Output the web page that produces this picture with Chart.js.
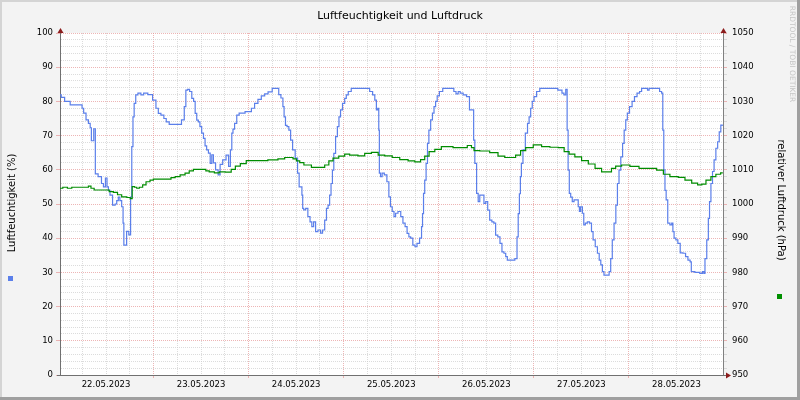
<!DOCTYPE html>
<html>
<head>
<meta charset="utf-8">
<script src="https://cdn.jsdelivr.net/npm/chart.js@4.4.0/dist/chart.umd.min.js"></script>
<style>
  html, body { margin: 0; padding: 0; background: #f3f3f3; }
  canvas { display: block; }
</style>
</head>
<body>
<canvas id="myChart" width="800" height="400"></canvas>
<script>
// hours since 22.05.2023 00:00
var humHours = [0.38, 1.0, 2.1, 3.8, 5.8, 6.1, 6.6, 7.3, 7.8, 8.2, 8.4, 8.8, 9.0, 9.2, 9.4, 10.6, 11.1, 11.6, 12.1, 12.4,
  12.8, 13.2, 14.1, 14.5, 14.9, 15.3, 15.7, 16.2, 16.4, 16.6, 17.0, 17.4, 18.1, 18.3, 18.7, 18.9, 19.3, 19.7, 20.4, 21.2,
  21.8, 23.3, 24.2, 25.0, 25.4, 26.3, 26.9, 27.5, 28.4, 30.5, 31.6, 31.9, 32.4, 32.8, 33.4, 33.9, 34.3, 34.7, 35.1, 35.5,
  35.9, 36.4, 36.8, 37.2, 37.6, 38.1, 38.5, 38.9, 39.3, 40.0, 40.6, 41.0, 41.9, 42.7, 43.2, 43.6, 43.9, 44.2, 44.7, 45.3,
  45.9, 48.3, 49.1, 49.9, 50.8, 51.6, 52.5, 53.3, 54.6, 55.4, 55.8, 56.5, 56.8, 57.1, 57.5, 57.9, 58.4, 58.8, 59.4, 60.1,
  60.6, 60.9, 61.3, 61.6, 61.7, 62.1, 62.7, 63.2, 63.8, 64.1, 64.7, 65.1, 65.9, 66.4, 66.9, 67.5, 67.8, 68.3, 68.6, 69.0,
  69.3, 69.7, 70.2, 70.6, 71.0, 71.4, 72.0, 72.5, 72.8, 73.5, 74.3, 78.1, 79.0, 79.6, 80.1, 80.4, 80.8, 80.9, 81.1, 81.5,
  81.9, 82.6, 83.2, 83.6, 84.0, 84.5, 84.9, 85.3, 86.1, 86.7, 87.2, 87.8, 88.2, 88.7, 89.1, 89.8, 90.2, 90.8, 91.5, 91.8,
  92.0, 92.3, 92.6, 93.0, 93.3, 93.7, 94.2, 94.6, 95.0, 95.4, 95.8, 96.5, 97.5, 99.6, 100.0, 100.7, 101.1, 101.7, 102.6, 103.4,
  104.1, 104.7, 104.9, 105.3, 105.8, 106.1, 106.6, 107.2, 107.6, 108.1, 108.6, 109.1, 109.7, 110.1, 110.6, 111.2, 111.7, 112.2, 112.7, 113.1,
  113.5, 114.8, 115.6, 115.9, 116.2, 116.5, 116.7, 117.0, 117.5, 118.2, 118.6, 119.0, 119.4, 119.8, 120.3, 121.1, 121.9, 125.3, 126.8, 127.4,
  127.8, 128.3, 128.5, 128.8, 129.1, 129.5, 129.9, 130.4, 131.0, 131.4, 131.6, 132.0, 132.5, 132.7, 133.3, 133.7, 134.4, 134.7, 135.2, 135.8,
  136.3, 136.7, 137.1, 137.5, 137.9, 138.8, 139.2, 139.6, 140.0, 140.5, 140.9, 141.3, 141.7, 142.2, 142.6, 143.0, 143.4, 143.8, 144.5, 145.1,
  145.7, 146.4, 147.0, 147.4, 148.5, 148.9, 149.3, 151.4, 152.1, 152.4, 152.7, 152.9, 153.3, 153.5, 154.1, 154.6, 155.0, 155.2, 155.6, 156.1,
  156.6, 157.3, 158.0, 158.6, 159.2, 159.7, 159.8, 161.5, 162.3, 162.8, 163.0, 163.4, 163.9, 164.2, 164.5, 164.9, 165.3, 165.7, 166.2, 166.6,
  167.0, 167.4, 167.7];
var humValues = [81.9, 81.2, 80, 79, 79, 78, 76.6, 74.6, 73.6, 72.3, 68.5, 68.5, 72, 72, 58.8, 58, 56, 55, 57.6, 55,
  54, 52.6, 49.7, 50, 51, 52, 51, 49.2, 44.4, 38, 38, 42, 41, 52, 66.8, 75.5, 79.4, 81.9, 82.4, 81.9,
  82.4, 82, 80.4, 78, 76.5, 76, 75, 74, 73.3, 73.3, 74.6, 78.5, 83.3, 83.5, 82.9, 80.9, 80, 76.5, 74.5, 74,
  72.6, 70.7, 69.2, 67, 65.8, 64.9, 61.9, 64.4, 62, 60, 58.5, 61.6, 62.9, 64.3, 61, 65.8, 70.7, 71.9, 73.6, 76,
  76.6, 77, 78, 79.4, 80.6, 81.6, 82.2, 82.8, 83.8, 83.8, 82, 81, 78.5, 75.5, 73, 72.6, 71.6, 68.7, 65.8, 63.4,
  59, 55, 55, 52.6, 48.7, 48.3, 48.7, 46.3, 44.8, 43.4, 44.8, 41.9, 42.4, 41.5, 42.4, 45.3, 48.7, 49.7, 52.6, 56,
  59.9, 64.8, 69.7, 72.6, 75.5, 77.5, 79.4, 80.9, 81.9, 82.9, 83.8, 83.8, 82.9, 81.9, 80.4, 77.5, 78, 71.6, 59, 58,
  59, 58.5, 56.5, 52.1, 49.2, 47.8, 46.3, 47.3, 47.8, 46.3, 44.4, 43.4, 41.4, 40.4, 40, 38, 37.5, 38.5, 40, 43.4,
  47.2, 53.1, 57, 61.9, 67.7, 71.6, 74.6, 76.6, 78.5, 80, 81.6, 82.9, 83.8, 83.8, 82.9, 82.2, 82.9, 82.4, 81.9, 81.4,
  77.5, 77.5, 68.7, 61.9, 53.1, 50.7, 52.6, 52.6, 50.2, 50.7, 48.2, 45.3, 44.8, 44.4, 40.9, 40.4, 38.5, 36, 35.6, 34.6,
  33.6, 33.6, 34, 40.4, 47.2, 53, 58, 61.9, 65.8, 70.7, 73.6, 75.5, 78, 80, 81.4, 82.9, 83.8, 83.8, 83.3, 82.4,
  81.9, 83.5, 71.6, 59.9, 53.1, 52, 50.7, 51.2, 51.2, 49.2, 47.8, 49.2, 47.3, 43.9, 44.4, 44.8, 44.4, 41.9, 39.5, 37.5,
  35.6, 33.6, 32.2, 30.2, 29.2, 29.2, 30.2, 34, 39.5, 44.4, 49.7, 56, 59.9, 63.8, 67.7, 71.6, 74.6, 76.6, 78.5, 80,
  81.4, 82.4, 82.9, 83.8, 83.8, 83.3, 83.8, 83.8, 82.9, 82.4, 71.6, 60, 54, 51.2, 44.4, 43.9, 44.4, 41.9, 40, 39.5,
  38.5, 35.7, 35.6, 34.6, 33.6, 33.1, 30.2, 30, 29.7, 30.2, 29.7, 34, 39.5, 45.8, 50.7, 56, 59.5, 62.9, 66.3, 68.2,
  71.1, 73.1, 73];

var pressHours = [0.38, 1.8, 2.7, 4.0, 7.3, 7.8, 8.6, 9.4, 12.4, 13.2, 14.5, 15.3, 16.6, 17.9, 18.3, 18.9, 19.5, 20.0, 20.8, 21.7,
  22.5, 23.7, 24.2, 28.0, 28.8, 30.1, 31.3, 32.6, 33.4, 34.7, 36.8, 37.6, 38.5, 40.2, 41.0, 43.2, 44.0, 45.3, 46.5, 48.3,
  51.6, 54.1, 56.7, 57.5, 58.8, 59.6, 60.5, 61.3, 62.6, 65.1, 66.8, 67.6, 68.9, 69.7, 71.8, 72.7, 74.3, 76.9, 77.7, 80.3,
  81.1, 83.6, 84.9, 87.4, 89.1, 90.8, 92.0, 92.9, 94.2, 95.8, 97.5, 99.2, 100.0, 102.6, 103.8, 104.7, 105.1, 107.6, 110.1, 111.8,
  113.5, 114.8, 116.0, 117.3, 118.6, 121.1, 122.8, 125.3, 127.0, 128.3, 129.5, 131.2, 132.9, 134.6, 136.3, 137.9, 139.2, 140.0, 141.3, 143.0,
  145.5, 147.6, 149.7, 152.3, 153.1, 155.6, 157.3, 159.0, 160.7, 162.0, 162.8, 164.1, 165.3, 166.6, 167.7];
var pressValues = [1004.6, 1004.9, 1004.6, 1004.9, 1004.9, 1005.2, 1004.6, 1004.1, 1004.1, 1003.6, 1003.4, 1002.7, 1002.1, 1001.9, 1001.6, 1005.1, 1004.9, 1004.6, 1004.9, 1005.6,
  1006.5, 1007, 1007.3, 1007.3, 1007.7, 1008, 1008.5, 1009, 1009.7, 1010.1, 1010.1, 1009.7, 1009.4, 1009.1, 1009.4, 1009.3, 1010.1, 1011.1, 1011.8, 1012.7,
  1012.7, 1012.9, 1013.2, 1013.6, 1013.6, 1013.2, 1012.6, 1012.1, 1011.4, 1010.7, 1010.7, 1011.4, 1012.6, 1013.4, 1014, 1014.6, 1014.3, 1014.1, 1014.8, 1015.1,
  1014.3, 1014.1, 1013.6, 1013, 1012.6, 1012.3, 1013, 1014, 1015.3, 1016, 1016.8, 1016.8, 1016.5, 1016.5, 1017.1, 1016.5, 1015.6, 1015.5, 1015, 1014,
  1013.6, 1013.6, 1014.3, 1015.6, 1016.5, 1017.3, 1016.8, 1016.6, 1016.5, 1015.3, 1014.6, 1013.8, 1012.7, 1011.7, 1010.4, 1009.4, 1009.4, 1010.4, 1011.1, 1011.4,
  1011, 1010.4, 1010.4, 1009.9, 1008.7, 1008, 1007.8, 1007, 1006.1, 1005.6, 1005.8, 1007, 1008, 1008.7, 1009.1];

var dayLabels = ['22.05.2023', '23.05.2023', '24.05.2023', '25.05.2023', '26.05.2023', '27.05.2023', '28.05.2023'];

var FONT = 'DejaVu Sans';
var MAJOR = 'rgba(230,150,150,0.7)';
var MINOR = 'rgba(205,205,205,0.7)';

function toPoints(xs, ys) {
  return xs.map(function (x, i) { return { x: x, y: ys[i] }; });
}

function arrow(ctx, x, y, dir) {
  ctx.beginPath();
  if (dir === 'up') {
    ctx.moveTo(x - 3, y + 5); ctx.lineTo(x + 3, y + 5); ctx.lineTo(x, y);
  } else {
    ctx.moveTo(x - 5, y - 3); ctx.lineTo(x - 5, y + 3); ctx.lineTo(x, y);
  }
  ctx.closePath();
  ctx.fill();
}

var rrdFrame = {
  id: 'rrdFrame',
  beforeDraw: function (chart) {
    var ctx = chart.ctx, a = chart.chartArea;
    ctx.save();
    ctx.fillStyle = '#f3f3f3';
    ctx.fillRect(0, 0, 800, 400);
    ctx.fillStyle = '#d4d4d4';
    ctx.fillRect(0, 0, 800, 2);
    ctx.fillRect(0, 0, 2, 400);
    ctx.fillStyle = '#9f9f9f';
    ctx.fillRect(0, 397, 800, 3);
    ctx.fillRect(797, 0, 3, 400);
    ctx.fillStyle = '#ffffff';
    ctx.fillRect(a.left, a.top, a.right - a.left, a.bottom - a.top);
    ctx.restore();
  },
  afterDraw: function (chart) {
    var ctx = chart.ctx, a = chart.chartArea;
    ctx.save();
    ctx.fillStyle = '#000';
    ctx.textAlign = 'center';
    ctx.textBaseline = 'middle';
    ctx.font = '11px "' + FONT + '"';
    ctx.fillText('Luftfeuchtigkeit und Luftdruck', 400, 16);

    ctx.font = '10px "' + FONT + '"';
    ctx.save();
    ctx.translate(12, 203);
    ctx.rotate(-Math.PI / 2);
    ctx.fillText('Luftfeuchtigkeit (%)', 0, 0);
    ctx.restore();
    ctx.save();
    ctx.translate(781, 200);
    ctx.rotate(Math.PI / 2);
    ctx.fillText('relativer Luftdruck (hPa)', 0, 0);
    ctx.restore();

    ctx.fillStyle = '#c6c6c6';
    ctx.font = '7.5px "' + FONT + '"';
    ctx.save();
    ctx.translate(792, 54);
    ctx.rotate(Math.PI / 2);
    ctx.fillText('RRDTOOL / TOBI OETIKER', 0, 0);
    ctx.restore();

    ctx.fillStyle = '#5b7fea';
    ctx.fillRect(8, 276, 5, 5);
    ctx.fillStyle = '#009000';
    ctx.fillRect(777, 294, 5, 5);

    ctx.strokeStyle = '#707070';
    ctx.lineWidth = 1;
    ctx.beginPath();
    ctx.moveTo(a.left + 0.5, a.top); ctx.lineTo(a.left + 0.5, 30);
    ctx.moveTo(a.right + 0.5, a.top); ctx.lineTo(a.right + 0.5, 30);
    ctx.moveTo(a.right, a.bottom + 0.5); ctx.lineTo(726, a.bottom + 0.5);
    ctx.moveTo(a.left - 3, a.bottom + 0.5); ctx.lineTo(a.left, a.bottom + 0.5);
    ctx.stroke();

    ctx.fillStyle = '#8b1c1c';
    arrow(ctx, a.left + 0.5, 28, 'up');
    arrow(ctx, a.right + 0.5, 28, 'up');
    arrow(ctx, 731, a.bottom + 0.5, 'right');
    ctx.restore();
  }
};

var ctx = document.getElementById('myChart');

new Chart(ctx, {
  type: 'line',
  data: {
    datasets: [{
      label: 'Luftfeuchtigkeit',
      data: toPoints(humHours, humValues),
      yAxisID: 'yHum',
      borderColor: '#5b7fea',
      borderWidth: 1.2,
      stepped: 'middle',
      pointRadius: 0,
      order: 2
    },
    {
      label: 'Luftdruck',
      data: toPoints(pressHours, pressValues),
      yAxisID: 'yPress',
      borderColor: '#008c00',
      borderWidth: 1.2,
      stepped: 'middle',
      pointRadius: 0,
      order: 1
    }]
  },
  plugins: [rrdFrame],
  options: {
    responsive: false,
    animation: false,
    layout: { padding: { top: 33, left: 0, right: 0, bottom: 0 } },
    plugins: {
      legend: { display: false },
      tooltip: { enabled: false }
    },
    scales: {
      x: {
        type: 'linear',
        min: 0.38,
        max: 167.75,
        afterBuildTicks: function (scale) {
          var t = [];
          for (var h = 6; h < 168; h += 6) t.push({ value: h });
          scale.ticks = t;
        },
        afterFit: function (scale) { scale.height = 25; },
        ticks: {
          autoSkip: false,
          maxRotation: 0,
          padding: 2,
          color: '#000',
          font: { family: FONT, size: 8.5 },
          callback: function (v) {
            return v % 24 === 12 ? dayLabels[(v - 12) / 24] : '';
          }
        },
        grid: {
          color: function (c) { return c.tick && c.tick.value % 24 === 0 ? MAJOR : MINOR; },
          tickColor: function (c) { return c.tick && c.tick.value % 24 === 0 ? MAJOR : 'rgba(0,0,0,0)'; },
          tickLength: 3,
          lineWidth: 1
        },
        border: { color: '#707070', dash: [1, 1] }
      },
      yHum: {
        position: 'left',
        min: 0,
        max: 100,
        afterFit: function (scale) { scale.width = 60; },
        ticks: {
          stepSize: 2,
          autoSkip: false,
          padding: 3,
          color: '#000',
          font: { family: FONT, size: 8.5 },
          callback: function (v) { return v % 10 === 0 ? v : ''; }
        },
        grid: {
          color: function (c) { return c.tick && c.tick.value % 10 === 0 ? MAJOR : MINOR; },
          tickColor: function (c) { return c.tick && c.tick.value % 10 === 0 ? MAJOR : 'rgba(0,0,0,0)'; },
          tickLength: 4,
          lineWidth: 1
        },
        border: { color: '#707070', dash: [1, 1] }
      },
      yPress: {
        position: 'right',
        min: 950,
        max: 1050,
        afterFit: function (scale) { scale.width = 77; },
        ticks: {
          stepSize: 2,
          autoSkip: false,
          padding: 5,
          color: '#000',
          font: { family: FONT, size: 8.5 },
          callback: function (v) { return v % 10 === 0 ? v : ''; }
        },
        grid: {
          drawOnChartArea: false,
          color: function (c) { return c.tick && c.tick.value % 10 === 0 ? MAJOR : MINOR; },
          tickLength: 4,
          lineWidth: 1
        },
        border: { color: '#808080', dash: [1, 1] }
      }
    }
  }
});
</script>
</body>
</html>
